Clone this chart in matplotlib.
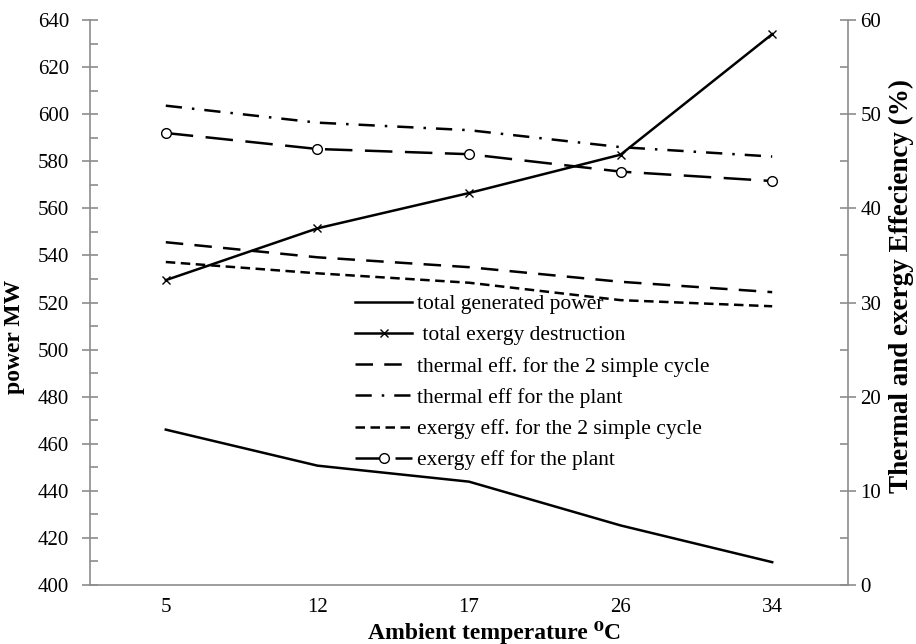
import matplotlib
matplotlib.use("Agg")
import matplotlib.pyplot as plt
from matplotlib.ticker import MultipleLocator

plt.rcParams['font.family'] = ['Liberation Serif', 'DejaVu Serif']

# ambient temperature categories (deg C)
temps = ["5", "12", "17", "26", "34"]

# left axis, MW
total_power = [466, 450.7, 443.9, 425.3, 409.7]
exergy_destruction = [529.5, 551.5, 566.5, 582.8, 634]

# right axis, %
thermal_eff_simple = [36.4, 34.8, 33.75, 32.2, 31.1]
thermal_eff_plant = [50.9, 49.1, 48.3, 46.5, 45.5]
exergy_eff_simple = [34.3, 33.1, 32.1, 30.25, 29.6]
exergy_eff_plant = [48.0, 46.3, 45.75, 43.9, 42.9]

x = list(range(len(temps)))

fig = plt.figure(figsize=(9.16, 6.44), dpi=100)
ax = fig.add_axes([90/916, 1-585/644, (848-90)/916, (585-20)/644])
ax2 = ax.twinx()

gray = "#8c8c8c"
lw = 1.8

l1, = ax.plot(x, total_power, color="black", lw=lw, label="total generated power")
l2, = ax.plot(x, exergy_destruction, color="black", lw=lw, marker="x", ms=6, mew=1,
              label=" total exergy destruction")
l3, = ax2.plot(x, thermal_eff_simple, color="black", lw=lw, dashes=(7, 4.5),
               label="thermal eff. for the 2 simple cycle")
l4, = ax2.plot(x, thermal_eff_plant, color="black", lw=lw, dashes=(6.5, 4, 1, 4),
               label="thermal eff for the plant")
l5, = ax2.plot(x, exergy_eff_simple, color="black", lw=lw, dashes=(3.8, 2.2),
               label="exergy eff. for the 2 simple cycle")
l6, = ax2.plot(x, exergy_eff_plant, color="black", lw=lw, dashes=(11, 5), marker="o",
               ms=7, mfc="white", mec="black", mew=1,
               label="exergy eff for the plant")

ax.set_xlim(-0.5, len(temps) - 0.5)
ax.set_ylim(400, 640)
ax2.set_ylim(0, 60)
ax.set_xticks(x)
ax.set_xticklabels(temps)

ax.yaxis.set_major_locator(MultipleLocator(20))
ax.yaxis.set_minor_locator(MultipleLocator(10))
ax2.yaxis.set_major_locator(MultipleLocator(10))
ax2.yaxis.set_minor_locator(MultipleLocator(5))

for a in (ax, ax2):
    a.spines["top"].set_visible(False)
    for s in ("left", "right", "bottom"):
        a.spines[s].set_color(gray)
        a.spines[s].set_linewidth(1.2)
ax.spines["right"].set_visible(False)
ax2.spines["left"].set_visible(False)
ax2.spines["bottom"].set_visible(False)

ax.tick_params(axis="x", length=0, labelsize=15, pad=9)
ax.tick_params(axis="y", which="major", direction="inout", length=12, color=gray,
               width=1.2, labelsize=15, pad=9)
ax.tick_params(axis="y", which="minor", direction="in", length=6, color=gray, width=1.2)
ax2.tick_params(axis="y", which="major", direction="inout", length=12, color=gray,
                width=1.2, labelsize=15, pad=3)
ax2.tick_params(axis="y", which="minor", direction="in", length=6, color=gray, width=1.2)

ax.set_ylabel("power MW", fontsize=17, fontweight="bold")
ax.yaxis.set_label_coords(-0.086, 0.44)
ax.set_xlabel("Ambient temperature \u2070C", fontsize=17, fontweight="bold")
ax.xaxis.set_label_coords(0.534, -0.064)
ax2.set_ylabel("Thermal and exergy Effeciency (%)", fontsize=19.5, fontweight="bold",
               rotation=90, ha="center", va="center")
ax2.yaxis.set_label_coords(1.07, 0.53)

fig.legend(handles=[l1, l2, l3, l4, l5, l6], loc="upper left",
           bbox_to_anchor=(355/916, 1-294/644), bbox_transform=fig.transFigure,
           frameon=False, fontsize=15.5, handlelength=2.65, handletextpad=0.25,
           labelspacing=0.52, borderpad=0, borderaxespad=0)

fig.savefig("out.png", dpi=100)
